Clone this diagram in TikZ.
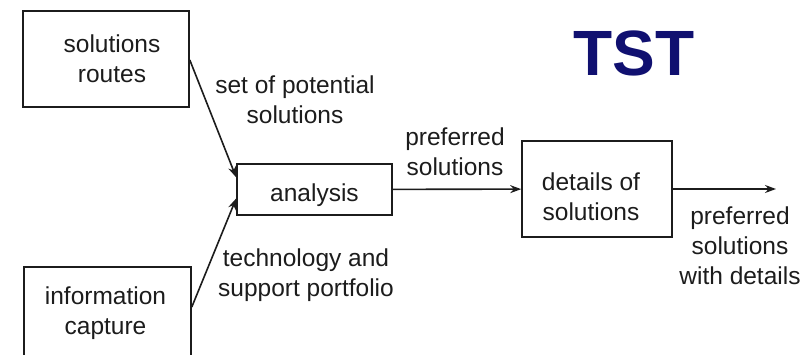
\documentclass[tikz,border=0pt]{standalone}
\usepackage{fontspec}
\setmainfont{Liberation Sans}
\usetikzlibrary{calc,arrows.meta}
\definecolor{ink}{RGB}{28,28,28}
\definecolor{tstblue}{RGB}{16,16,112}
\begin{document}
\begin{tikzpicture}[x=1pt,y=-1pt,
  txt/.style={text=ink,font=\fontsize{24.5}{30}\selectfont,align=center,inner sep=0pt},
  box/.style={draw=ink,line width=1.6pt,inner sep=0pt},
  conn/.style={draw=ink,line width=1.6pt,-{Stealth[length=11pt,width=8pt]}}]
\useasboundingbox (0,0) rectangle (804,355);
% boxes
\node[box,minimum width=166pt,minimum height=96pt] (routes) at (106,59) {};
\node[box,minimum width=167pt,minimum height=92pt] (capture) at (107.5,313) {};
\node[box,minimum width=155pt,minimum height=51pt] (analysis) at (314.5,189.5) {};
\node[box,minimum width=150pt,minimum height=96pt] (details) at (597,189) {};
\node[txt] (routesT) at ($(routes.center)+(6,0)$) {solutions\\routes};
\node[txt] (captureT) at ($(capture.center)+(-2,0)$) {information\\capture};
\node[txt] (analysisT) at ($(analysis.center)+(0,6)$) {analysis};
\node[txt] (detailsT) at ($(details.center)+(-6,8)$) {details of\\solutions};
\coordinate (out) at (776,189);
% connectors
\draw[conn] ($(routes.east)+(0,1)$) -- ($(analysis.north west)!0.27!(analysis.south west)$);
\draw[conn] ($(capture.east)+(0,-6)$) -- ($(analysis.north west)!0.67!(analysis.south west)$);
\draw[conn] (analysis) -- (details);
\draw[conn] (details) -- (out);
% labels
\node[txt] (l1) at (295,100) {set of potential\\solutions};
\node[txt] (l2) at (306,275) {technology and\\support portfolio};
\node[txt] (l3) at (455,152) {preferred\\solutions};
\node[txt] (l4) at (740,246) {preferred\\solutions\\with details};
\node[text=tstblue,font=\fontsize{64}{64}\selectfont\bfseries,inner sep=0pt] (tst) at (634,53) {TST};
\end{tikzpicture}
\end{document}
